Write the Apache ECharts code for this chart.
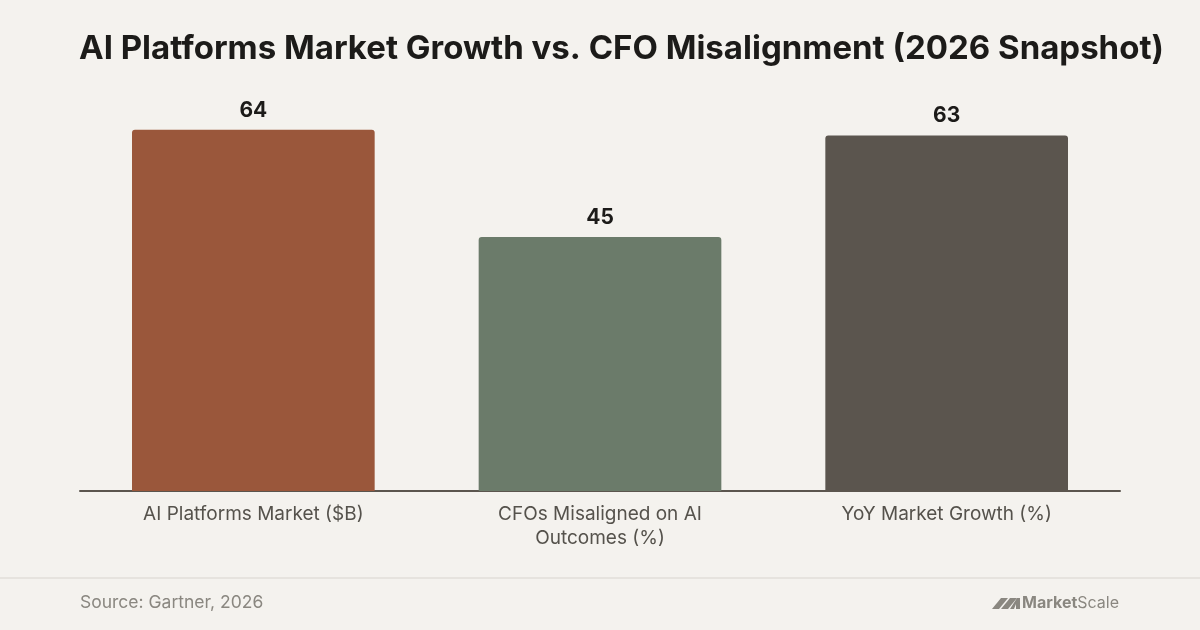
<!DOCTYPE html>
<html>
<head>
<meta charset="utf-8">
<script src="https://cdn.jsdelivr.net/npm/echarts@6/dist/echarts.min.js"></script>
<style>
  html, body { margin: 0; padding: 0; background: #f4f2ee; }
  #chart { width: 1200px; height: 630px; }
</style>
</head>
<body>
<div id="chart"></div>
<script>
// values
const categories = ['AI Platforms Market ($B)', 'CFOs Misaligned on AI\nOutcomes (%)', 'YoY Market Growth (%)'];
const values = [64, 45, 63];
const barColors = ['#9a573b', '#6b7b6a', '#5b554e'];

const chart = echarts.init(document.getElementById('chart'));

chart.setOption({
  backgroundColor: '#f4f2ee',
  animation: false,
  title: {
    text: 'AI Platforms Market Growth vs. CFO Misalignment (2026 Snapshot)',
    left: 74,
    top: 28,
    textStyle: { fontFamily: 'Inter', fontWeight: 700, fontSize: 33, color: '#1c1b19' }
  },
  grid: { left: 80, right: 80, top: 96, bottom: 139 },
  xAxis: {
    type: 'category',
    data: categories,
    axisLine: { lineStyle: { color: '#5b554e', width: 2 } },
    axisTick: { show: false },
    axisLabel: {
      color: '#55524c',
      fontFamily: 'Inter',
      fontSize: 19,
      lineHeight: 24,
      margin: 11,
      interval: 0
    }
  },
  yAxis: {
    type: 'value',
    min: 0,
    max: 70,
    show: false
  },
  series: [{
    type: 'bar',
    barWidth: '70%',
    data: values.map((v, i) => ({ value: v, itemStyle: { color: barColors[i] } })),
    itemStyle: { borderRadius: [3, 3, 0, 0] },
    label: {
      show: true,
      position: 'top',
      distance: 9,
      color: '#1c1b19',
      fontFamily: 'Inter',
      fontWeight: 700,
      fontSize: 21
    }
  }],
  graphic: [
    { type: 'rect', shape: { x: 0, y: 577, width: 1200, height: 2 }, style: { fill: '#e6e3de' } },
    {
      type: 'text', left: 80, top: 594,
      style: { text: 'Source: Gartner, 2026', fill: '#8a8780', font: '17.5px Inter' }
    },
    // MarketScale logo mark
    {
      type: 'polygon',
      shape: { points: [[992, 609], [999, 609], [1008, 598], [1001, 598]] },
      style: { fill: '#8a8780' }
    },
    {
      type: 'polygon',
      shape: { points: [[1001, 609], [1008, 609], [1017, 598], [1010, 598]] },
      style: { fill: '#8a8780' }
    },
    {
      type: 'polygon',
      shape: { points: [[1010, 609], [1014, 609], [1016, 604], [1016, 609], [1020, 609], [1020, 598], [1017, 598]] },
      style: { fill: '#8a8780' }
    },
    {
      type: 'text', left: 1022, top: 595,
      style: {
        text: '{b|Market}{r|Scale}',
        rich: {
          b: { fill: '#8a8780', font: '700 16px Inter' },
          r: { fill: '#8a8780', font: '400 16px Inter' }
        }
      }
    }
  ]
});
</script>
</body>
</html>
